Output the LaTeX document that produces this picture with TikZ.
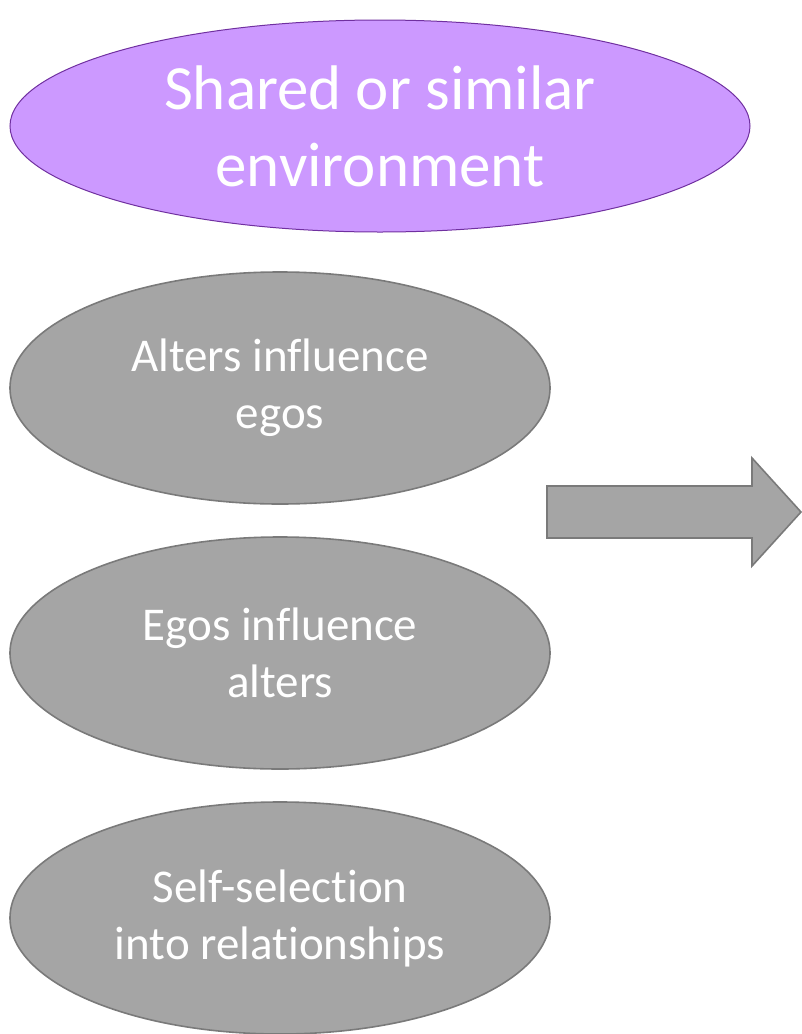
\documentclass[tikz,border=0pt]{standalone}
\usepackage{fontspec}
\setmainfont{Carlito}[Ligatures={NoCommon}]
\usetikzlibrary{shapes.geometric}
\definecolor{lilac}{HTML}{CC99FF}
\definecolor{lilacedge}{HTML}{7030A0}
\definecolor{greyfill}{HTML}{A5A5A5}
\definecolor{greyedge}{HTML}{7A7A7A}
\tikzset{
  bigoval/.style={ellipse, fill=lilac, draw=lilacedge, line width=1pt,
    minimum width=740pt, minimum height=212pt, inner sep=0pt,
    text=white, align=center, font=\fontsize{63}{77}\selectfont},
  oval/.style={ellipse, fill=greyfill, draw=greyedge, line width=1.6pt,
    minimum width=540pt, minimum height=232pt, inner sep=0pt,
    text=white, align=center, font=\fontsize{47}{57}\selectfont},
  blockarrow/.style={fill=greyfill, draw=greyedge, line width=1.6pt, line join=miter}
}
\begin{document}
\begin{tikzpicture}[x=1pt,y=-1pt]
\useasboundingbox (0,0) rectangle (801,1034);
\node[bigoval] (env) at (380,126) {Shared or similar\\environment};
\node[oval] (alters) at (280,388) {Alters influence\\egos};
\node[oval] (egos) at (280,653) {Egos influence\\alters};
\node[oval] (select) at (280,918) {Self-selection\\into relationships};
% block arrow pointing right
\draw[blockarrow] (547,486) -- (752,486) -- (752,458) -- (801,512)
  -- (752,566) -- (752,538) -- (547,538) -- cycle;
\end{tikzpicture}
\end{document}
